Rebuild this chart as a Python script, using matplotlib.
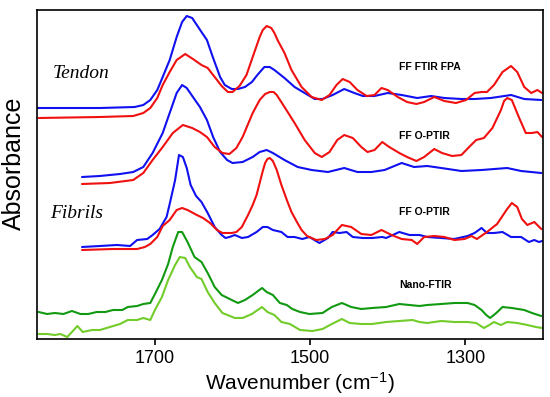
import matplotlib.pyplot as plt
import numpy as np

plt.rcParams["mathtext.fontset"] = "custom"
plt.rcParams["mathtext.rm"] = "Liberation Sans"
plt.rcParams["mathtext.it"] = "Liberation Sans:italic"

# wavenumber (cm-1) / absorbance (arb., stacked)
tendon_fpa_blue_wn = [1852, 1771, 1726, 1715, 1706, 1697, 1690, 1681, 1672, 1665, 1659, 1652, 1646, 1640, 1633,
                      1625, 1616, 1610, 1601, 1593, 1584, 1575, 1568, 1559, 1552, 1546, 1533, 1520, 1507, 1494,
                      1484, 1471, 1456, 1443, 1432, 1417, 1400, 1382, 1362, 1344, 1327, 1305, 1288, 1267, 1241,
                      1224, 1202]
tendon_fpa_blue = [2.31, 2.31, 2.32, 2.34, 2.39, 2.49, 2.62, 2.79, 3.02, 3.17, 3.23, 3.21, 3.14, 3.07, 2.99,
                   2.81, 2.62, 2.54, 2.50, 2.50, 2.52, 2.57, 2.64, 2.72, 2.72, 2.69, 2.61, 2.52, 2.46, 2.40,
                   2.40, 2.44, 2.50, 2.46, 2.43, 2.43, 2.46, 2.44, 2.41, 2.43, 2.41, 2.40, 2.40, 2.41, 2.44,
                   2.40, 2.39]

tendon_fpa_red_wn = [1850, 1771, 1728, 1715, 1706, 1697, 1690, 1681, 1672, 1661, 1651, 1640, 1632, 1623, 1614,
                     1606, 1600, 1591, 1582, 1574, 1565, 1561, 1556, 1550, 1546, 1542, 1533, 1524, 1511, 1498,
                     1485, 1475, 1466, 1458, 1449, 1439, 1427, 1417, 1408, 1400, 1387, 1375, 1363, 1353, 1340,
                     1327, 1312, 1299, 1288, 1279, 1272, 1263, 1252, 1241, 1233, 1224, 1215, 1207, 1201]
tendon_fpa_red = [2.21, 2.22, 2.23, 2.26, 2.31, 2.41, 2.54, 2.67, 2.79, 2.85, 2.80, 2.74, 2.71, 2.62, 2.53,
                  2.47, 2.47, 2.53, 2.64, 2.82, 3.02, 3.09, 3.13, 3.11, 3.06, 2.99, 2.86, 2.69, 2.52, 2.42,
                  2.39, 2.44, 2.54, 2.60, 2.57, 2.49, 2.43, 2.44, 2.51, 2.49, 2.42, 2.37, 2.35, 2.37, 2.42,
                  2.38, 2.36, 2.39, 2.46, 2.47, 2.47, 2.54, 2.67, 2.73, 2.67, 2.52, 2.46, 2.49, 2.46]

tendon_optir_blue_wn = [1794, 1771, 1745, 1728, 1715, 1703, 1690, 1681, 1672, 1665, 1659, 1651, 1642, 1633, 1625,
                        1616, 1607, 1600, 1587, 1574, 1565, 1556, 1548, 1533, 1516, 1498, 1477, 1456, 1439, 1421,
                        1404, 1382, 1366, 1349, 1331, 1305, 1279, 1246, 1228, 1202]
tendon_optir_blue = [1.62, 1.63, 1.65, 1.67, 1.72, 1.86, 2.06, 2.26, 2.46, 2.54, 2.51, 2.42, 2.32, 2.19, 2.02,
                     1.87, 1.79, 1.76, 1.77, 1.82, 1.87, 1.89, 1.86, 1.79, 1.72, 1.69, 1.67, 1.71, 1.67, 1.67,
                     1.69, 1.76, 1.72, 1.73, 1.71, 1.68, 1.69, 1.71, 1.68, 1.66]

tendon_optir_red_wn = [1794, 1758, 1728, 1715, 1703, 1690, 1677, 1664, 1652, 1642, 1633, 1623, 1613, 1604, 1595,
                       1587, 1574, 1565, 1558, 1552, 1547, 1543, 1533, 1520, 1507, 1494, 1485, 1475, 1465, 1456,
                       1445, 1434, 1426, 1417, 1407, 1398, 1385, 1375, 1363, 1353, 1340, 1330, 1317, 1305, 1295,
                       1286, 1276, 1265, 1254, 1250, 1246, 1240, 1231, 1222, 1214, 1207, 1201]
tendon_optir_red = [1.55, 1.56, 1.59, 1.66, 1.79, 1.92, 2.06, 2.14, 2.11, 2.07, 2.02, 1.92, 1.86, 1.85, 1.91,
                    2.02, 2.26, 2.39, 2.45, 2.47, 2.47, 2.44, 2.32, 2.16, 1.99, 1.86, 1.82, 1.87, 1.99, 2.04,
                    2.01, 1.92, 1.87, 1.89, 1.97, 1.92, 1.86, 1.82, 1.78, 1.82, 1.90, 1.86, 1.83, 1.84, 1.92,
                    1.99, 2.01, 2.11, 2.29, 2.38, 2.41, 2.39, 2.22, 2.06, 2.06, 2.07, 2.02]

fibril_blue_wn = [1794, 1771, 1749, 1732, 1723, 1710, 1703, 1694, 1685, 1681, 1674, 1669, 1664, 1659, 1654,
                  1647, 1640, 1632, 1623, 1614, 1609, 1604, 1597, 1588, 1580, 1569, 1561, 1555, 1548, 1537,
                  1529, 1520, 1510, 1501, 1488, 1477, 1471, 1462, 1453, 1445, 1432, 1420, 1407, 1402, 1385,
                  1372, 1359, 1349, 1331, 1314, 1297, 1288, 1279, 1272, 1263, 1252, 1241, 1228, 1218, 1211,
                  1205, 1201]
fibril_blue = [0.92, 0.93, 0.94, 0.93, 0.99, 1.00, 1.04, 1.10, 1.22, 1.35, 1.59, 1.84, 1.82, 1.71, 1.54,
               1.43, 1.37, 1.26, 1.12, 1.04, 1.01, 1.02, 1.04, 1.01, 1.02, 1.07, 1.12, 1.12, 1.09, 1.07,
               1.02, 1.02, 1.00, 1.02, 0.96, 1.01, 1.07, 1.06, 1.07, 1.02, 1.01, 1.01, 1.02, 1.01, 1.07,
               1.04, 1.04, 1.02, 1.01, 1.00, 1.03, 1.06, 1.11, 1.06, 1.06, 1.07, 1.02, 1.02, 0.97, 0.99,
               0.97, 0.98]

fibril_red_wn = [1794, 1754, 1723, 1713, 1706, 1697, 1690, 1681, 1672, 1665, 1658, 1646, 1638, 1629, 1620,
                 1613, 1601, 1595, 1588, 1580, 1574, 1569, 1565, 1561, 1558, 1555, 1552, 1548, 1543, 1537,
                 1530, 1524, 1517, 1511, 1504, 1492, 1481, 1471, 1459, 1447, 1434, 1421, 1408, 1395, 1382,
                 1369, 1362, 1353, 1340, 1327, 1314, 1301, 1292, 1285, 1272, 1259, 1246, 1240, 1233, 1227,
                 1220, 1211, 1202]
fibril_red = [0.89, 0.90, 0.90, 0.92, 0.95, 1.02, 1.13, 1.19, 1.29, 1.31, 1.29, 1.24, 1.21, 1.16, 1.09,
              1.06, 1.06, 1.07, 1.12, 1.24, 1.34, 1.44, 1.56, 1.68, 1.76, 1.80, 1.81, 1.78, 1.69, 1.54,
              1.39, 1.27, 1.17, 1.09, 1.03, 0.99, 1.00, 1.04, 1.14, 1.12, 1.05, 1.04, 1.09, 1.04, 1.00,
              0.99, 0.95, 1.02, 1.03, 1.02, 0.99, 1.00, 1.03, 1.00, 1.07, 1.15, 1.30, 1.36, 1.32, 1.20,
              1.14, 1.17, 1.10]

nano_dark_wn = [1850, 1839, 1829, 1818, 1807, 1796, 1786, 1775, 1764, 1754, 1742, 1735, 1723, 1715, 1706,
                1700, 1691, 1683, 1677, 1670, 1665, 1658, 1649, 1640, 1632, 1623, 1614, 1601, 1593, 1584,
                1574, 1562, 1556, 1548, 1539, 1530, 1523, 1513, 1501, 1484, 1472, 1459, 1447, 1434, 1420,
                1402, 1385, 1372, 1359, 1349, 1331, 1314, 1297, 1288, 1279, 1273, 1268, 1260, 1252, 1240,
                1224, 1214, 1202]
nano_dark = [0.27, 0.25, 0.26, 0.25, 0.28, 0.25, 0.25, 0.27, 0.27, 0.29, 0.29, 0.32, 0.33, 0.35, 0.36,
             0.45, 0.59, 0.75, 0.92, 1.07, 1.07, 0.97, 0.82, 0.77, 0.66, 0.52, 0.44, 0.39, 0.36, 0.39,
             0.44, 0.51, 0.47, 0.44, 0.36, 0.34, 0.30, 0.27, 0.25, 0.26, 0.32, 0.36, 0.32, 0.30, 0.31,
             0.32, 0.35, 0.34, 0.33, 0.34, 0.35, 0.36, 0.36, 0.34, 0.29, 0.24, 0.21, 0.26, 0.32, 0.31,
             0.29, 0.26, 0.23]

nano_light_wn = [1850, 1839, 1829, 1822, 1813, 1807, 1800, 1793, 1781, 1771, 1758, 1745, 1735, 1723, 1715,
                 1706, 1700, 1691, 1683, 1674, 1668, 1661, 1655, 1646, 1640, 1632, 1623, 1613, 1597, 1587,
                 1575, 1562, 1555, 1546, 1537, 1526, 1513, 1497, 1484, 1472, 1459, 1449, 1434, 1420, 1402,
                 1385, 1368, 1359, 1349, 1331, 1314, 1297, 1286, 1276, 1269, 1263, 1254, 1246, 1233, 1220,
                 1209, 1201]
nano_light = [0.05, 0.05, 0.04, 0.05, 0.02, 0.07, 0.13, 0.07, 0.09, 0.09, 0.12, 0.15, 0.19, 0.19, 0.21,
              0.19, 0.29, 0.42, 0.59, 0.74, 0.82, 0.81, 0.72, 0.62, 0.60, 0.47, 0.36, 0.26, 0.21, 0.21,
              0.25, 0.32, 0.27, 0.24, 0.17, 0.15, 0.09, 0.08, 0.10, 0.15, 0.20, 0.16, 0.15, 0.15, 0.17,
              0.18, 0.19, 0.17, 0.16, 0.18, 0.17, 0.17, 0.16, 0.11, 0.14, 0.17, 0.14, 0.17, 0.16, 0.14,
              0.12, 0.11]

tick_values = [1700, 1500, 1300]

blue = "#1010f0"
red = "#f01010"
dark_green = "#119a11"
light_green = "#72cc2a"

fig = plt.figure(figsize=(5.5, 3.97), dpi=100)
ax = fig.add_axes([0.0673, 0.1461, 0.9197, 0.8287])

style = dict(lw=1.5, solid_joinstyle="round", solid_capstyle="round")
ax.plot(tendon_fpa_blue_wn, tendon_fpa_blue, color=blue, **style)
ax.plot(tendon_fpa_red_wn, tendon_fpa_red, color=red, **style)
ax.plot(tendon_optir_blue_wn, tendon_optir_blue, color=blue, **style)
ax.plot(tendon_optir_red_wn, tendon_optir_red, color=red, **style)
ax.plot(fibril_blue_wn, fibril_blue, color=blue, **style)
ax.plot(fibril_red_wn, fibril_red, color=red, **style)
ax.plot(nano_dark_wn, nano_dark, color=dark_green, **style)
ax.plot(nano_light_wn, nano_light, color=light_green, **style)

ax.set_xlim(1852, 1200)
ax.set_ylim(0, 3.29)

ax.set_xticks(tick_values)
ax.set_xticklabels([str(t) for t in tick_values], fontsize=13, family="Liberation Sans")
ax.tick_params(axis="x", direction="out", length=4, width=1.2, pad=4)
ax.set_yticks([])
for s in ax.spines.values():
    s.set_linewidth(1.2)

ax.set_xlabel("Wavenumber (cm$^{-1}$)", fontsize=15, family="Liberation Sans")
ax.xaxis.set_label_coords(0.52, -0.095)
ax.set_ylabel("Absorbance", fontsize=18, family="Liberation Sans")
ax.yaxis.set_label_coords(-0.022, 0.535)

# sample / method annotations
ax.text(1832, 2.66, "Tendon", fontsize=14, style="italic", family="Liberation Serif", va="center")
ax.text(1835, 1.26, "Fibrils", fontsize=14, style="italic", family="Liberation Serif", va="center")
lab = dict(fontsize=7.5, fontweight="bold", family="Liberation Sans", va="center")
ax.text(1385, 2.72, "FF FTIR FPA", **lab)
ax.text(1385, 2.03, "FF O-PTIR", **lab)
ax.text(1385, 1.27, "FF O-PTIR", **lab)
ax.text(1385, 0.54, "Nano-FTIR", **lab)

fig.savefig("out.png", dpi=100)
